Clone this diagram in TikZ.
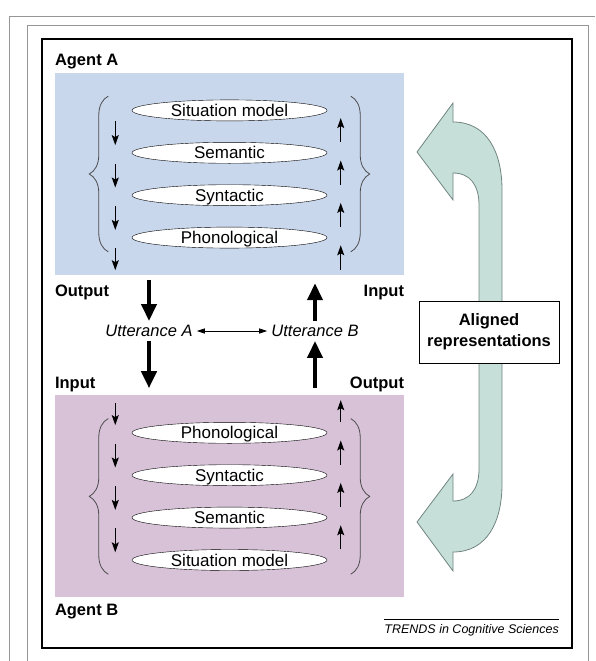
\documentclass[tikz,border=0pt]{standalone}
\usepackage{fontspec}
\setmainfont{Liberation Sans}
\usetikzlibrary{positioning, arrows.meta, shapes.geometric, decorations.pathreplacing}
\definecolor{agentA}{RGB}{201,215,237}
\definecolor{agentB}{RGB}{216,194,216}
\definecolor{alignfill}{RGB}{198,224,217}
\definecolor{alignline}{RGB}{112,132,127}
\definecolor{framegray}{RGB}{150,150,150}
\tikzset{%
  x=1pt, y=-1pt,        % one unit = one pixel, y downwards
  agent/.style={rectangle, minimum width=349pt, minimum height=202pt, inner sep=0pt},
  level/.style={ellipse, draw, thin, fill=white,
    minimum width=195pt, minimum height=21pt, inner sep=0pt,
    text height=12pt, text depth=0pt, font=\fontsize{17}{21}\selectfont},
  side/.style={inner sep=0pt, font=\fontsize{16.5}{21}\selectfont\bfseries},
  utter/.style={inner sep=4pt, font=\fontsize{16.5}{21}\selectfont\itshape},
  flow/.style={line width=1pt, -{Stealth[length=10pt,width=7pt,inset=2pt]}, shorten >=-3pt},
  bigflow/.style={line width=4pt, -{Triangle[length=17pt,width=15pt]}},
  link/.style={line width=0.8pt, {Triangle[length=8pt,width=5pt]}-{Triangle[length=8pt,width=5pt]}},
  curly/.style={black!70, line width=0.8pt, decorate,
    decoration={brace, amplitude=19pt}},
  alignbox/.style={draw, fill=white, minimum width=140pt, minimum height=62pt,
    align=center, font=\fontsize{16.5}{21}\selectfont\bfseries}
}

\begin{document}
\begin{tikzpicture}[font=\fontsize{16.5}{21}\selectfont]
    \useasboundingbox (0,0) rectangle (595,661);

    % frames
    \draw[framegray] (9.5,661) -- (9.5,16) -- (595,16);
    \draw[framegray] (27,661) -- (27,25) -- (588,25) -- (588,661);
    \draw[line width=1.6pt] (42,39) rectangle (572,648);

    \node[agent, fill=agentA] (boxA) at (229.5,174) {};
    \node[agent, fill=agentB, below=120pt of boxA] (boxB) {};

    \matrix (mA) at (boxA.center) [row sep=21pt, nodes=level] {
        \node (A1) {Situation model}; \\
        \node (A2) {Semantic}; \\
        \node (A3) {Syntactic}; \\
        \node (A4) {Phonological}; \\
    };
    \matrix (mB) at (boxB.center) [row sep=21pt, nodes=level] {
        \node (B1) {Phonological}; \\
        \node (B2) {Syntactic}; \\
        \node (B3) {Semantic}; \\
        \node (B4) {Situation model}; \\
    };

    \coordinate (lcol) at ([xshift=-13pt]mA.west);
    \coordinate (rcol) at ([xshift=10pt]mA.east);

    \foreach \i/\j in {1/2, 2/3, 3/4} {
      \draw[flow] (lcol |- A\i.south) -- (lcol |- A\j.north);
      \draw[flow] (rcol |- A\j.north) -- (rcol |- A\i.south);
      \draw[flow] (lcol |- B\i.south) -- (lcol |- B\j.north);
      \draw[flow] (rcol |- B\j.north) -- (rcol |- B\i.south);
    }
    \draw[flow, shorten >=5pt] (lcol |- A4.south) -- (lcol |- boxA.south);
    \draw[flow, shorten <=5pt] (rcol |- boxA.south) -- (rcol |- A4.south);
    \draw[flow, shorten <=8pt] (lcol |- boxB.north) -- (lcol |- B1.north);
    \draw[flow, shorten >=5pt] (rcol |- B1.north) -- (rcol |- boxB.north);

    \draw[curly] ([xshift=-20pt]mA.south west) -- ([xshift=-20pt]mA.north west);
    \draw[curly] ([xshift=20pt]mA.north east) -- ([xshift=20pt]mA.south east);
    \draw[curly] ([xshift=-20pt]mB.south west) -- ([xshift=-20pt]mB.north west);
    \draw[curly] ([xshift=20pt]mB.north east) -- ([xshift=20pt]mB.south east);

    \node[side, above right=3.5pt and 0pt of boxA.north west] (agA) {Agent A};
    \node[side, below right=10pt and 0pt of boxA.south west] (outA) {Output};
    \node[side, below left=10pt and 0pt of boxA.south east] (inA) {Input};
    \node[side, above right=3pt and 0pt of boxB.north west] (inB) {Input};
    \node[side, above left=3pt and 0pt of boxB.north east] (outB) {Output};
    \node[side, below right=6pt and 0pt of boxB.south west] (agB) {Agent B};

    \node[utter] (uA) at (149,331) {Utterance A};
    \node[utter] (uB) at (315,331) {Utterance B};

    \draw[bigflow, shorten <=5pt] (boxA.south -| uA) -- (uA.north);
    \draw[bigflow, shorten >=7pt] (uA.south) -- (uA |- boxB.north);
    \draw[bigflow, shorten <=7pt] (uB |- boxB.north) -- (uB.south);
    \draw[bigflow, shorten >=8pt] (uB.north) -- (uB |- boxA.south);
    \draw[link] (uA) -- (uB);

    % aligned representations
    \draw[fill=alignfill, draw=alignline, line width=0.8pt]
      (417,152) -- (453,103) -- (453,122)
      .. controls (487,122) and (502,152) .. (502,190) -- (502,484)
      .. controls (502,522) and (487,552) .. (453,552) -- (453,571)
      -- (417,522) -- (453,474) -- (453,501)
      .. controls (470,501) and (479,489) .. (479,469) -- (479,205)
      .. controls (479,185) and (470,173) .. (453,173) -- (453,200) -- cycle;
    \node[alignbox] (align) at (489,332) {Aligned\\representations};

    \node[inner sep=0pt, anchor=base east, font=\fontsize{12.5}{15}\selectfont\itshape]
      (trends) at (559,633) {TRENDS in Cognitive Sciences};
    \draw[line width=0.8pt] ([yshift=4pt]trends.north west) -- ([yshift=4pt]trends.north east);

\end{tikzpicture}
\end{document}
